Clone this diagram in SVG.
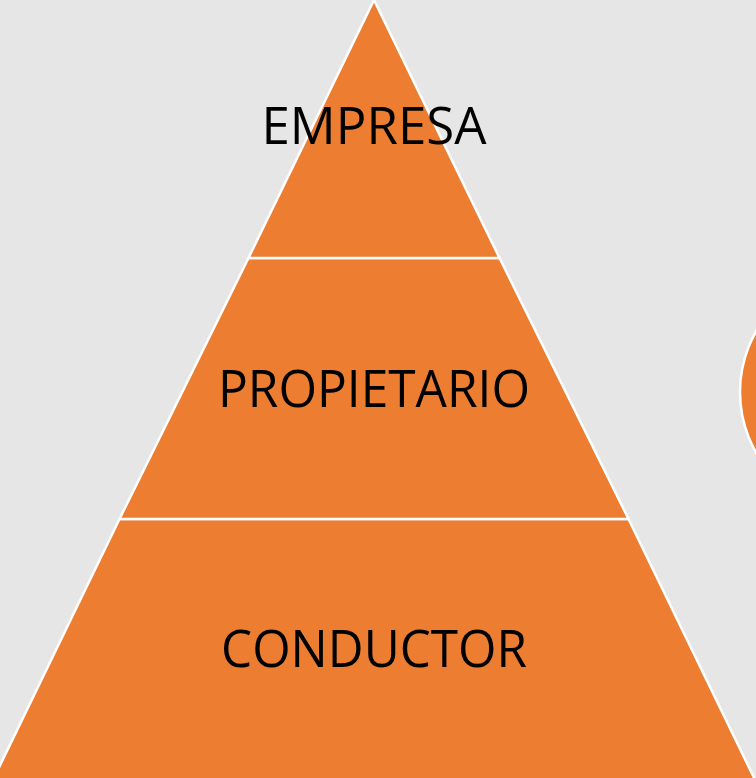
<svg xmlns="http://www.w3.org/2000/svg" width="756" height="778" viewBox="0 0 756 778">
<style>
.tier{fill:#ED7D31;stroke:#FFFFFF;stroke-width:2.5;stroke-linejoin:round}
.lbl{font-family:"Open Sans","Liberation Sans",sans-serif;font-size:51px;fill:#000000;text-anchor:middle}
</style>
<rect x="0" y="0" width="756" height="778" fill="#E7E6E6"/>
<g id="circle-right"><circle class="tier" cx="862" cy="392" r="122"/></g>
<g id="tier-bottom">
<polygon class="tier" points="119.5,519 628.5,519 758,786 -10,786"/>
<text class="lbl" x="374" y="667" textLength="306" lengthAdjust="spacingAndGlyphs">CONDUCTOR</text>
</g>
<g id="tier-middle">
<polygon class="tier" points="248.5,258 499.5,258 628.5,519 119.5,519"/>
<text class="lbl" x="374" y="407" textLength="312" lengthAdjust="spacingAndGlyphs">PROPIETARIO</text>
</g>
<g id="tier-top">
<polygon class="tier" points="374,0 499.5,258 248.5,258"/>
<text class="lbl" x="374" y="144" textLength="225" lengthAdjust="spacingAndGlyphs">EMPRESA</text>
</g>
</svg>
